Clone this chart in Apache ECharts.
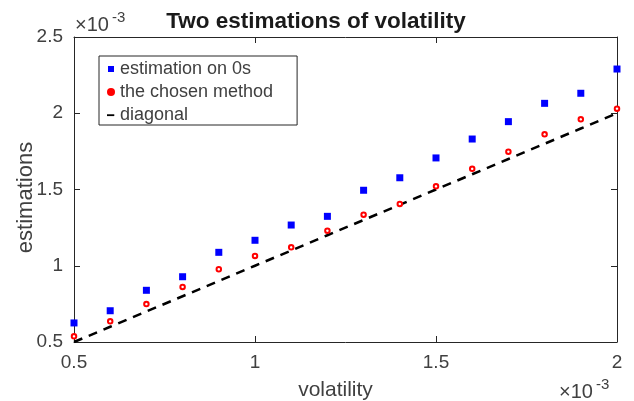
<!DOCTYPE html>
<html>
<head>
<meta charset="utf-8">
<script src="https://cdn.jsdelivr.net/npm/echarts@6/dist/echarts.min.js"></script>
<style>html,body{margin:0;padding:0;background:#fff}#c{width:634px;height:401px}</style>
</head>
<body>
<div id="c"></div>
<script>
// values in units of 1e-3
var volatility = [0.5,0.6,0.7,0.8,0.9,1.0,1.1,1.2,1.3,1.4,1.5,1.6,1.7,1.8,1.9,2.0];
var estimationOn0s = [0.625,0.705,0.839,0.928,1.088,1.167,1.267,1.324,1.495,1.577,1.707,1.831,1.945,2.065,2.131,2.290];
var chosenMethod = [0.537,0.636,0.749,0.861,0.977,1.064,1.121,1.230,1.335,1.405,1.521,1.636,1.748,1.862,1.960,2.030];
var diagonal = [0.5,0.6,0.7,0.8,0.9,1.0,1.1,1.2,1.3,1.4,1.5,1.6,1.7,1.8,1.9,2.0];
var xTicks = [0.5, 1, 1.5, 2];
var yTicks = [0.5, 1, 1.5, 2, 2.5];

function pairs(xs, ys){ return xs.map(function(x,i){ return [x, ys[i]]; }); }

var FONT = '"Liberation Sans", Arial, Helvetica, sans-serif';
var AX = '#262626';
var TXT = '#404040';

var chart = echarts.init(document.getElementById('c'));
var axisCommon = {
  axisLine: {show: true, lineStyle: {color: AX, width: 1}},
  axisTick: {show: true, inside: true, length: 6, lineStyle: {color: AX}},
  splitLine: {show: false}
};
function fmt(v){ return String(+v.toFixed(2)); }
chart.setOption({
  animation: false,
  backgroundColor: '#fff',
  textStyle: {fontFamily: FONT},
  title: {
    text: 'Two estimations of volatility',
    left: 311, top: 5, textAlign: 'center',
    textStyle: {fontSize: 22.5, fontWeight: 'bold', color: '#1a1a1a', fontFamily: FONT}
  },
  grid: {left: 74, right: 17, top: 37, bottom: 59, containLabel: false, outerBoundsMode: 'none'},
  legend: {
    orient: 'vertical', left: 99, top: 56,
    padding: [3, 24, 0, 8], itemGap: 3,
    borderColor: AX, borderWidth: 1, backgroundColor: '#fff',
    itemWidth: 8, itemHeight: 8,
    textStyle: {fontSize: 18, color: TXT, fontFamily: FONT, lineHeight: 20},
    data: [
      {name: 'estimation on 0s', icon: 'path://M0,0 M1,1 L7,1 L7,7 L1,7 Z M8,8'},
      {name: 'the chosen method', icon: 'circle',
        itemStyle: {color: '#ff0000', borderColor: '#ff0000', borderWidth: 0}},
      {name: 'diagonal', icon: 'path://M0,0 M-3,3 L7,3 L7,5.5 L-3,5.5 Z M8,8'}
    ]
  },
  xAxis: [
    Object.assign({
      type: 'value', min: 0.5, max: 2, interval: 0.5, position: 'bottom',
      name: 'volatility', nameLocation: 'middle', nameGap: 38, nameMoveOverlap: false,
      nameTextStyle: {fontSize: 21, color: TXT, fontFamily: FONT, padding: [0, 20, 0, 0]},
      axisLabel: {fontSize: 19, color: TXT, margin: 11, fontFamily: FONT, formatter: fmt}
    }, axisCommon),
    Object.assign({
      type: 'value', min: 0.5, max: 2, interval: 0.5, position: 'top',
      axisLabel: {show: false}
    }, axisCommon)
  ],
  yAxis: [
    Object.assign({
      type: 'value', min: 0.5, max: 2.5, interval: 0.5, position: 'left',
      name: 'estimations', nameLocation: 'middle', nameGap: 37, nameRotate: 90, nameMoveOverlap: false,
      nameTextStyle: {fontSize: 22, color: TXT, fontFamily: FONT, padding: [0, 16, 0, 0]},
      axisLabel: {fontSize: 19, color: TXT, margin: 11, fontFamily: FONT, formatter: fmt}
    }, axisCommon),
    Object.assign({
      type: 'value', min: 0.5, max: 2.5, interval: 0.5, position: 'right',
      axisLabel: {show: false}
    }, axisCommon)
  ],
  graphic: [
    {type: 'text', left: 75, top: 15, style: {text: '×10', fontSize: 20, fill: TXT, fontFamily: FONT}},
    {type: 'text', left: 112, top: 10, style: {text: '-3', fontSize: 15, fill: TXT, fontFamily: FONT}},
    {type: 'text', left: 559, top: 382, style: {text: '×10', fontSize: 20, fill: TXT, fontFamily: FONT}},
    {type: 'text', left: 596, top: 377, style: {text: '-3', fontSize: 15, fill: TXT, fontFamily: FONT}}
  ],
  series: [
    {
      name: 'diagonal', type: 'line', data: pairs(volatility, diagonal),
      symbol: 'none', z: 1,
      lineStyle: {color: '#000', width: 2.5, type: [9, 7]},
      itemStyle: {color: '#000'}
    },
    {
      name: 'estimation on 0s', type: 'scatter', data: pairs(volatility, estimationOn0s),
      symbol: 'rect', symbolSize: 7, clip: false, z: 3,
      itemStyle: {color: '#0000ff', opacity: 1}
    },
    {
      name: 'the chosen method', type: 'scatter', data: pairs(volatility, chosenMethod),
      symbol: 'emptyCircle', symbolSize: 4.5, clip: false, z: 3,
      itemStyle: {color: '#ff0000', borderColor: '#ff0000', borderWidth: 2.5, opacity: 1}
    }
  ]
});
</script>
</body>
</html>
